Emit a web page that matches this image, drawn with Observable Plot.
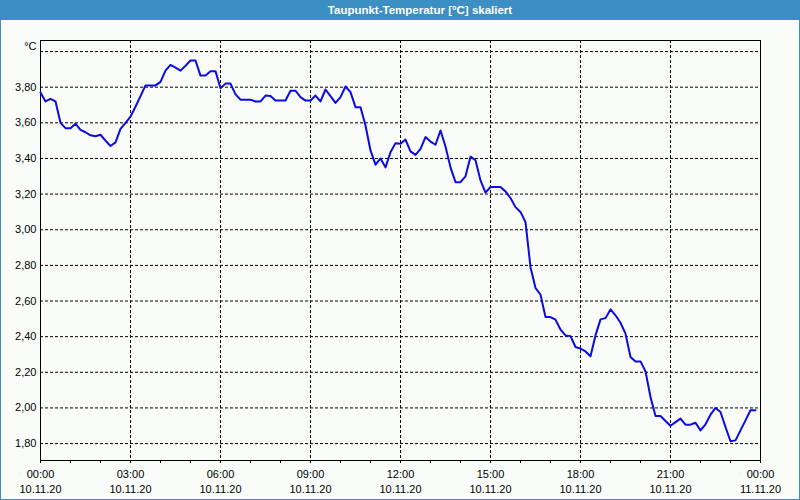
<!DOCTYPE html>
<html>
<head>
<meta charset="utf-8">
<script src="https://cdn.jsdelivr.net/npm/d3@7"></script>
<script src="https://cdn.jsdelivr.net/npm/@observablehq/plot@0.6"></script>
<style>
  html, body { margin: 0; padding: 0; background: #fafcfa; }
  #wrap { position: relative; width: 800px; height: 500px; overflow: hidden; background: #fafcfa; font-family: "Liberation Sans", Arial, sans-serif; }
  #title { position: absolute; left: 0; top: 0; width: 800px; height: 20px; background: #3b8fc2; color: #fff; font-weight: bold; font-size: 11.5px; line-height: 20px; text-align: center; box-sizing: border-box; padding-left: 40px; }
  #chart { position: absolute; left: 0; top: 20px; }
  .b { position: absolute; background: #3b8fc2; }
</style>
</head>
<body>
<div id="wrap">
  <div id="title">Taupunkt-Temperatur [°C] skaliert</div>
  <div id="chart"></div>
  <div class="b" style="left:0;top:20px;width:1px;height:480px"></div>
  <div class="b" style="left:799px;top:20px;width:1px;height:480px"></div>
  <div class="b" style="left:0;top:499px;width:800px;height:1px"></div>
</div>
<script>
// Measurement series: dew point (°C), one reading every 10 minutes starting 10.11.20 00:00
const startTime = "2020-11-10T00:00:00Z";
const endTime = "2020-11-11T00:00:00Z";
const stepMinutes = 10;
const values = [
  3.77, 3.72, 3.735, 3.72, 3.60, 3.57, 3.57, 3.595, 3.56, 3.547,
  3.53, 3.525, 3.533, 3.50, 3.47, 3.49, 3.566, 3.60, 3.635, 3.69,
  3.75, 3.81, 3.81, 3.81, 3.83, 3.893, 3.925, 3.91, 3.893, 3.92,
  3.95, 3.95, 3.865, 3.865, 3.89, 3.89, 3.794, 3.82, 3.82, 3.76,
  3.73, 3.73, 3.73, 3.72, 3.72, 3.753, 3.75, 3.725, 3.725, 3.725,
  3.78, 3.78, 3.744, 3.725, 3.725, 3.753, 3.72, 3.787, 3.75, 3.712,
  3.744, 3.804, 3.772, 3.688, 3.688, 3.585, 3.445, 3.365, 3.40, 3.35,
  3.435, 3.486, 3.482, 3.506, 3.44, 3.42, 3.454, 3.52, 3.495, 3.477,
  3.557, 3.467, 3.35, 3.267, 3.267, 3.30, 3.41, 3.39, 3.277, 3.208,
  3.24, 3.24, 3.24, 3.215, 3.178, 3.127, 3.10, 3.043, 2.79, 2.673,
  2.636, 2.51, 2.51, 2.495, 2.44, 2.407, 2.403, 2.342, 2.333, 2.317,
  2.29, 2.407, 2.497, 2.504, 2.553, 2.52, 2.478, 2.417, 2.286, 2.261,
  2.261, 2.205, 2.061, 1.955, 1.955, 1.927, 1.90, 1.92, 1.94, 1.906,
  1.906, 1.917, 1.874, 1.908, 1.962, 2.00, 1.977, 1.893, 1.813, 1.818,
  1.874, 1.93, 1.987, 1.987
];
const yTicks = [1.8, 2.0, 2.2, 2.4, 2.6, 2.8, 3.0, 3.2, 3.4, 3.6, 3.8];
const yUnitTick = [4.0];
const yUnitLabel = "°C";
const yDomain = [1.705, 4.062];

const t0 = new Date(startTime);
const t1 = new Date(endTime);
const data = values.map((v, i) => ({ t: new Date(t0.getTime() + i * stepMinutes * 60000), v }));

const majorTicks = d3.utcHour.every(3).range(t0, new Date(t1.getTime() + 1));
const minorTicks = d3.utcHour.every(1).range(t0, new Date(t1.getTime() + 1));
const innerMajor = majorTicks.filter(d => +d !== +t0 && +d !== +t1);
const fmtTime = d3.utcFormat("%H:%M");
const fmtDate = d3.utcFormat("%d.%m.%y");
const fmtNum = d => d.toFixed(2).replace(".", ",");

const chart = Plot.plot({
  width: 800,
  height: 480,
  marginTop: 20,
  marginBottom: 40,
  marginLeft: 40,
  marginRight: 40,
  style: { background: "transparent", fontFamily: "'Liberation Sans', Arial, sans-serif", fontSize: "11px", color: "#000" },
  x: { type: "utc", domain: [t0, t1], label: null },
  y: { domain: yDomain, label: null },
  marks: [
    Plot.gridX(innerMajor, { stroke: "#000", strokeOpacity: 1, strokeDasharray: "3,2" }),
    Plot.gridY(yTicks.concat(yUnitTick), { stroke: "#000", strokeOpacity: 1, strokeDasharray: "3,2" }),
    Plot.frame({ stroke: "#000" }),
    Plot.axisX(minorTicks, { tickSize: 3, tickFormat: () => "", stroke: "#000", label: null }),
    Plot.axisX(majorTicks, { tickSize: 0, tickPadding: 10, tickFormat: fmtTime, fill: "#000", label: null }),
    Plot.axisX(majorTicks, { tickSize: 0, tickPadding: 25, tickFormat: fmtDate, fill: "#000", label: null }),
    Plot.axisY(yTicks, { tickSize: 0, tickPadding: 4, tickFormat: fmtNum, fill: "#000", label: null }),
    Plot.axisY(yUnitTick, { tickSize: 0, tickPadding: 4, tickFormat: () => yUnitLabel, fill: "#000", dy: -5, label: null }),
    Plot.line(data, { x: "t", y: "v", stroke: "#0a0ae6", strokeWidth: 2 })
  ]
});
document.getElementById("chart").appendChild(chart);
</script>
</body>
</html>
